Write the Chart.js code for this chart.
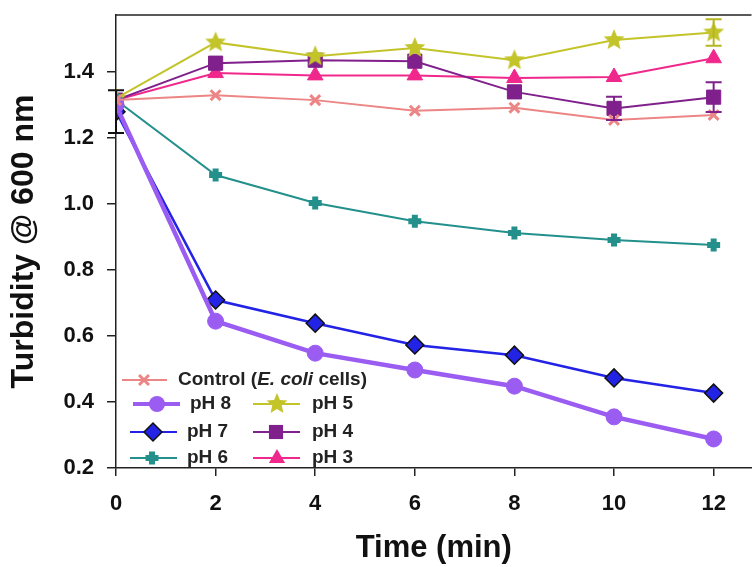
<!DOCTYPE html>
<html>
<head>
<meta charset="utf-8">
<script src="https://cdn.jsdelivr.net/npm/chart.js@4.4.0/dist/chart.umd.min.js"></script>
<style>
  html, body { margin: 0; background: #fff; overflow: hidden; }
</style>
</head>
<body>
<canvas id="chart" width="764" height="567"></canvas>
<script>
// data
const times   = [0, 2, 4, 6, 8, 10, 12];
const control = [1.315, 1.33, 1.315, 1.283, 1.292, 1.255, 1.27];
const ph8     = [1.30, 0.645, 0.548, 0.497, 0.448, 0.355, 0.288];
const ph7     = [1.28, 0.709, 0.639, 0.573, 0.542, 0.473, 0.427];
const ph6     = [1.315, 1.088, 1.003, 0.948, 0.912, 0.891, 0.876];
const ph5     = [1.32, 1.49, 1.448, 1.473, 1.436, 1.497, 1.52];
const ph4     = [1.315, 1.427, 1.436, 1.433, 1.34, 1.29, 1.324];
const ph3     = [1.315, 1.397, 1.39, 1.39, 1.382, 1.385, 1.442];

// error bars (+/-)
const errPh7 = [0.065, 0, 0, 0, 0, 0, 0];
const errPh5 = [0, 0, 0, 0, 0, 0, 0.04];
const errPh4 = [0, 0, 0, 0, 0, 0.035, 0.045];

const xTicks = [0, 2, 4, 6, 8, 10, 12];
const yTicks = [0.2, 0.4, 0.6, 0.8, 1.0, 1.2, 1.4];

const FONT = "'Liberation Sans', Arial, sans-serif";

// filled star marker for pH 5
function makeStar(color, r) {
  const c = document.createElement('canvas');
  c.width = c.height = r * 2 + 2;
  const g = c.getContext('2d');
  g.fillStyle = color;
  g.beginPath();
  for (let i = 0; i < 10; i++) {
    const rad = i % 2 ? r * 0.45 : r;
    const a = -Math.PI / 2 + i * Math.PI / 5;
    g.lineTo(r + 1 + rad * Math.cos(a), r + 1 + rad * Math.sin(a));
  }
  g.closePath();
  g.fill();
  return c;
}
const starImg = makeStar('#c3c42a', 11);

const series = [
  { label: 'Control', data: control, color: '#ec8585', style: 'crossRot', radius: 7, pbw: 3, bw: 2 },
  { label: 'pH 8', data: ph8, color: '#9b5cf2', style: 'circle', radius: 8, pbw: 1, bw: 4.5 },
  { label: 'pH 7', data: ph7, color: '#2323e6', style: 'rectRot', radius: 9, pbw: 1.5, bw: 2.5, pbc: '#111' },
  { label: 'pH 6', data: ph6, color: '#23908c', style: 'cross', radius: 6.5, pbw: 6, bw: 2 },
  { label: 'pH 5', data: ph5, color: '#c3c42a', style: starImg, radius: 11, pbw: 1, bw: 2 },
  { label: 'pH 4', data: ph4, color: '#80208c', style: 'rect', radius: 10, pbw: 1, bw: 2 },
  { label: 'pH 3', data: ph3, color: '#f0288c', style: 'triangle', radius: 9, pbw: 1, bw: 2 }
];

const errors = [
  { data: errPh7, color: '#111', series: ph7 },
  { data: errPh5, color: '#b5b620', series: ph5 },
  { data: errPh4, color: '#80208c', series: ph4 }
];

const datasets = series.map(s => ({
  label: s.label,
  data: times.map((t, i) => ({ x: t, y: s.data[i] })),
  borderColor: s.color,
  backgroundColor: s.color,
  borderWidth: s.bw,
  pointStyle: s.style,
  pointRadius: s.radius,
  pointHoverRadius: s.radius,
  pointBackgroundColor: s.color,
  pointBorderColor: s.pbc || s.color,
  pointBorderWidth: s.pbw,
  tension: 0
}));

function marker(ctx, s, x, y) {
  ctx.save();
  ctx.fillStyle = s.color;
  ctx.strokeStyle = s.pbc || s.color;
  ctx.lineWidth = s.pbw;
  const r = s.radius;
  ctx.beginPath();
  if (s.style === 'circle') {
    ctx.arc(x, y, r, 0, Math.PI * 2); ctx.fill();
  } else if (s.style === 'rectRot') {
    ctx.moveTo(x - r, y); ctx.lineTo(x, y - r); ctx.lineTo(x + r, y); ctx.lineTo(x, y + r);
    ctx.closePath(); ctx.fill(); ctx.stroke();
  } else if (s.style === 'rect') {
    const h = r * Math.SQRT1_2;
    ctx.rect(x - h, y - h, 2 * h, 2 * h); ctx.fill();
  } else if (s.style === 'triangle') {
    ctx.moveTo(x, y - r); ctx.lineTo(x + r * 0.9, y + r * 0.55); ctx.lineTo(x - r * 0.9, y + r * 0.55);
    ctx.closePath(); ctx.fill();
  } else if (s.style === 'crossRot') {
    const h = r * Math.SQRT1_2;
    ctx.moveTo(x - h, y - h); ctx.lineTo(x + h, y + h);
    ctx.moveTo(x + h, y - h); ctx.lineTo(x - h, y + h); ctx.stroke();
  } else if (s.style === 'cross') {
    ctx.moveTo(x - r, y); ctx.lineTo(x + r, y);
    ctx.moveTo(x, y - r); ctx.lineTo(x, y + r); ctx.stroke();
  } else {
    ctx.drawImage(s.style, x - s.style.width / 2, y - s.style.height / 2);
  }
  ctx.restore();
}

const extras = {
  id: 'extras',
  beforeDatasetsDraw(chart) {
    const { ctx, chartArea: a } = chart;
    // legend background
    ctx.save();
    ctx.fillStyle = '#fff';
    ctx.fillRect(a.left + 1, 366, 280, a.bottom - 367);
    ctx.restore();
  },
  afterDatasetsDraw(chart) {
    const { ctx, chartArea: a, scales: { x, y } } = chart;
    ctx.save();
    // top frame line
    ctx.strokeStyle = '#222';
    ctx.lineWidth = 1.5;
    ctx.beginPath();
    ctx.moveTo(a.left, a.top);
    ctx.lineTo(a.right, a.top);
    ctx.stroke();

    // error bars
    errors.forEach(e => {
      ctx.strokeStyle = e.color;
      ctx.lineWidth = 2;
      e.data.forEach((v, i) => {
        if (!v) return;
        const px = x.getPixelForValue(times[i]);
        const top = y.getPixelForValue(e.series[i] + v);
        const bot = y.getPixelForValue(e.series[i] - v);
        ctx.beginPath();
        ctx.moveTo(px, top); ctx.lineTo(px, bot);
        ctx.moveTo(px - 8, top); ctx.lineTo(px + 8, top);
        ctx.moveTo(px - 8, bot); ctx.lineTo(px + 8, bot);
        ctx.stroke();
      });
    });

    // legend
    const rows = [
      [0, 122, 167, 144, 178, 380],
      [1, 133, 180, 157, 190, 404],
      [4, 253, 300, 277, 312, 404],
      [2, 130, 177, 153, 187, 432],
      [5, 253, 300, 276, 312, 432],
      [3, 130, 177, 152, 187, 458],
      [6, 253, 300, 277, 312, 458]
    ];
    ctx.textBaseline = 'middle';
    rows.forEach(([idx, l1, l2, mx, tx, ty]) => {
      const s = series[idx];
      ctx.strokeStyle = s.color;
      ctx.lineWidth = s.bw > 3 ? 4 : 2;
      ctx.beginPath();
      ctx.moveTo(l1, ty); ctx.lineTo(l2, ty);
      ctx.stroke();
      marker(ctx, s, mx, ty);
      ctx.fillStyle = '#222';
      if (idx === 0) {
        let cx = tx;
        ctx.font = 'bold 19px ' + FONT;
        ctx.fillText('Control (', cx, ty);
        cx += ctx.measureText('Control (').width;
        ctx.font = 'italic bold 19px ' + FONT;
        ctx.fillText('E. coli', cx, ty);
        cx += ctx.measureText('E. coli').width;
        ctx.font = 'bold 19px ' + FONT;
        ctx.fillText(' cells)', cx, ty);
      } else {
        ctx.font = 'bold 19px ' + FONT;
        ctx.fillText(s.label, tx, ty);
      }
    });
    ctx.restore();
  }
};

new Chart(document.getElementById('chart'), {
  type: 'line',
  data: { datasets: datasets },
  options: {
    responsive: false,
    animation: false,
    events: [],
    layout: { padding: { top: 15, left: 0, right: 0, bottom: 0 } },
    plugins: { legend: { display: false }, tooltip: { enabled: false } },
    scales: {
      x: {
        type: 'linear',
        min: 0,
        max: 12.76,
        afterFit: s => { s.height = 99; },
        afterBuildTicks: s => { s.ticks = xTicks.map(v => ({ value: v })); },
        grid: { drawOnChartArea: false, drawTicks: true, tickLength: 8, color: '#222', lineWidth: 1.5 },
        border: { display: true, color: '#222', width: 1.5 },
        ticks: { color: '#111', padding: 15, font: { family: FONT, size: 22, weight: 'bold' }, maxRotation: 0 },
        title: { display: true, text: 'Time (min)', color: '#111', padding: { top: 0, bottom: 0 },
                 font: { family: FONT, size: 31, weight: 'bold' } }
      },
      y: {
        type: 'linear',
        min: 0.2,
        max: 1.573,
        afterFit: s => { s.width = 116; s.paddingTop = 0; s.paddingBottom = 0; },
        afterBuildTicks: s => { s.ticks = yTicks.map(v => ({ value: v })); },
        grid: { drawOnChartArea: false, drawTicks: true, tickLength: 9, color: '#222', lineWidth: 1.5 },
        border: { display: true, color: '#222', width: 1.5 },
        ticks: { color: '#111', padding: 13, font: { family: FONT, size: 22, weight: 'bold' },
                 callback: v => v.toFixed(1) },
        title: { display: true, text: 'Turbidity @ 600 nm', color: '#111', padding: { top: 5, bottom: 0 },
                 font: { family: FONT, size: 32, weight: 'bold' } }
      }
    }
  },
  plugins: [extras]
});
</script>
</body>
</html>
